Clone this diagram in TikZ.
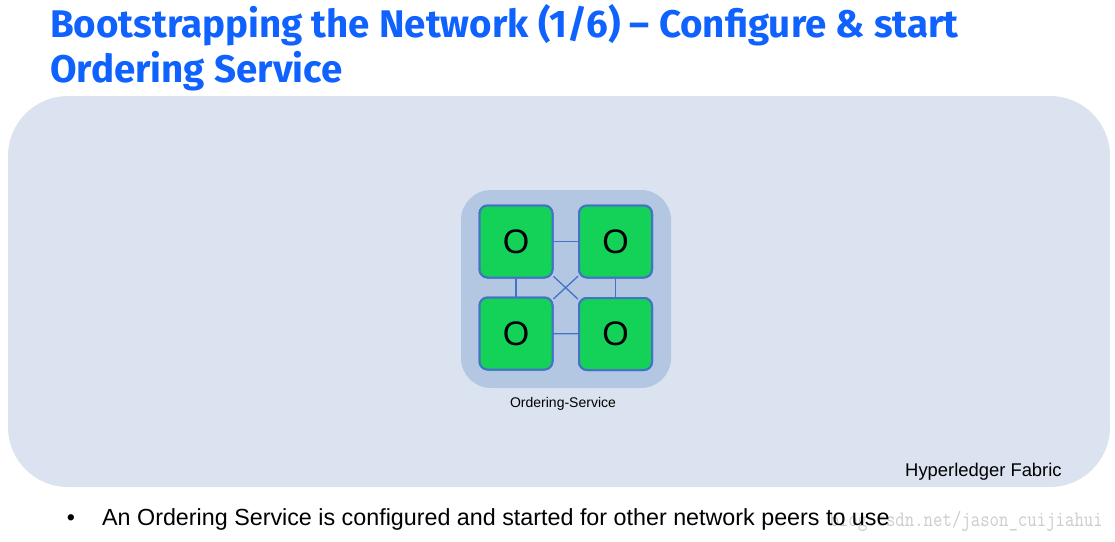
\documentclass[tikz,border=0pt]{standalone}
\usepackage{fontspec}
\usepackage{graphicx}
\setmainfont{Liberation Sans}
\newfontfamily\titlefont{Fira Sans}[UprightFont=* Bold]
\definecolor{fabricbg}{RGB}{218,227,239}
\definecolor{clusterbg}{RGB}{180,199,226}
\definecolor{ordgreen}{RGB}{20,209,88}
\definecolor{edgeblue}{RGB}{68,114,196}
\definecolor{titleblue}{RGB}{15,98,254}
\tikzset{
  fabricbox/.style={fill=fabricbg, draw=none, rounded corners=60pt, minimum width=1102pt, minimum height=391pt, inner sep=0pt},
  clusterbox/.style={fill=clusterbg, draw=none, rounded corners=30pt, minimum width=210pt, minimum height=198pt, inner sep=0pt},
  orderer/.style={fill=ordgreen, draw=edgeblue, line width=2pt, rounded corners=8pt, minimum width=73pt, minimum height=72pt, inner sep=0pt, font=\fontsize{34}{40}\selectfont},
  link/.style={draw=edgeblue, line width=1.3pt},
  titletext/.style={anchor=base west, inner sep=0pt, text=titleblue, font=\titlefont\fontsize{38.5}{44}\selectfont},
  bodytext/.style={inner sep=0pt, font=\fontsize{23.3}{27}\selectfont},
}
\begin{document}
\begin{tikzpicture}[x=1pt,y=-1pt]
\useasboundingbox (0,0) rectangle (1115,541);
% title
\node[titletext] (t1) at (50,37) {Bootstrapping the Network (1/6) – Configure \& start};
\node[titletext] (t2) at (50,82) {Ordering Service};
% fabric area
\node[fabricbox] (fabric) at (559,291.5) {};
\node[anchor=base west, inner sep=0pt, font=\fontsize{18.4}{22}\selectfont] (fabriclabel) at (905,476.5) {Hyperledger Fabric};
% ordering service cluster
\node[clusterbox] (os) at (566,289) {};
\node[orderer] (o1) at (516,241.5) {O};
\node[orderer] (o2) at (615.5,241.5) {O};
\node[orderer] (o3) at (516,333.5) {O};
\node[orderer] (o4) at (615.5,334) {O};
\draw[link] (o1) -- (o2);
\draw[link] (o3) -- (o4);
\draw[link] (o1) -- (o3);
\draw[link] (o2) -- (o4);
\draw[link] (o1) -- (o4);
\draw[link] (o2) -- (o3);
\node[orderer] at (o1) {O};
\node[orderer] at (o2) {O};
\node[orderer] at (o3) {O};
\node[orderer] at (o4) {O};
\node[anchor=base, inner sep=0pt, font=\fontsize{14}{16}\selectfont] (oslabel) at (563,407) {Ordering-Service};
% watermark
\node[anchor=base east, inner sep=0pt, text=black!20, font=\ttfamily\fontsize{18.3}{22}\selectfont] (wm) at (1103,526.5) {\scalebox{1}[1.2]{blog.csdn.net/jason\_cuijiahui}};
% bullet
\node[bodytext, anchor=base] (bullet) at (71,525) {•};
\node[bodytext, anchor=base west] (bullettext) at (102,525) {An Ordering Service is configured and started for other network peers to use};
\end{tikzpicture}
\end{document}
